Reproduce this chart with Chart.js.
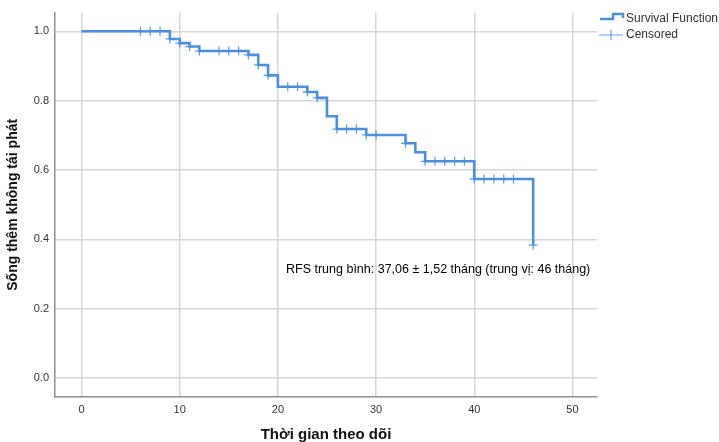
<!DOCTYPE html>
<html>
<head>
<meta charset="utf-8">
<script src="https://cdn.jsdelivr.net/npm/chart.js@4/dist/chart.umd.min.js"></script>
<style>
html, body { margin: 0; padding: 0; background: #fff; }
#wrap { width: 719px; height: 442px; position: relative; }
</style>
</head>
<body>
<div id="wrap"><canvas id="kmChart"></canvas></div>
<script>
// Kaplan-Meier steps
const eventTimes = [0, 9, 10, 11, 12, 17, 18, 19, 20, 23, 24, 25, 26, 29, 33, 34, 35, 40, 46];
const survival = [1.0, 0.978, 0.966, 0.956, 0.943, 0.932, 0.903, 0.873, 0.840, 0.825, 0.808, 0.755, 0.718, 0.701, 0.677, 0.651, 0.625, 0.574, 0.383];

// censored cases
const censorTimes = [6, 7, 8, 9, 10, 11, 12, 14, 15, 16, 17, 18, 19, 21, 22, 23, 24, 26, 27, 28, 29, 30, 33, 35, 36, 37, 38, 39, 40, 41, 42, 43, 44, 46];
const censorSurvival = [1.0, 1.0, 1.0, 0.978, 0.966, 0.956, 0.943, 0.943, 0.943, 0.943, 0.932, 0.903, 0.873, 0.840, 0.840, 0.825, 0.808, 0.718, 0.718, 0.718, 0.701, 0.701, 0.677, 0.625, 0.625, 0.625, 0.625, 0.625, 0.574, 0.574, 0.574, 0.574, 0.574, 0.383];

const xTicks = [0, 10, 20, 30, 40, 50];
const yTicks = [0.0, 0.2, 0.4, 0.6, 0.8, 1.0];
const legendLabels = ['Survival Function', 'Censored'];
const noteText = 'RFS trung bình: 37,06 ± 1,52 tháng (trung vị: 46 tháng)';

const lineColor = '#4a8fe0';
const censorColor = 'rgba(74, 143, 224, 0.85)';

function toPoints(xs, ys)
{
    let pts = [];
    for (let i = 0; i < xs.length; i++)
    {
        pts.push({x: xs[i], y: ys[i]});
    }
    return pts;
}

// legend box and median note, drawn after the chart
const extras = {
    id: 'extras',
    afterDraw(chart) {
        const ctx = chart.ctx;
        const area = chart.chartArea;
        ctx.save();

        // step icon
        ctx.strokeStyle = lineColor;
        ctx.lineWidth = 2.5;
        ctx.beginPath();
        ctx.moveTo(area.right + 3, 19);
        ctx.lineTo(area.right + 16, 19);
        ctx.lineTo(area.right + 16, 14);
        ctx.lineTo(area.right + 26, 14);
        ctx.lineTo(area.right + 26, 18);
        ctx.stroke();

        // censored icon
        ctx.strokeStyle = censorColor;
        ctx.lineWidth = 1.2;
        ctx.beginPath();
        ctx.moveTo(area.right + 2, 35);
        ctx.lineTo(area.right + 26, 35);
        ctx.moveTo(area.right + 14, 30);
        ctx.lineTo(area.right + 14, 40);
        ctx.stroke();

        ctx.fillStyle = '#333';
        ctx.font = '12px "Liberation Sans", Arial, sans-serif';
        ctx.textBaseline = 'middle';
        ctx.textAlign = 'left';
        ctx.fillText(legendLabels[0], area.right + 29, 19);
        ctx.fillText(legendLabels[1], area.right + 29, 35);

        ctx.fillStyle = '#000';
        ctx.font = '12.5px "Liberation Sans", Arial, sans-serif';
        ctx.fillText(noteText, 286, 270);
        ctx.restore();
    }
};

const ctx = document.getElementById('kmChart');
const kmChart = new Chart(ctx, {
    type: 'scatter',
    data: {
        datasets: [
            {
                label: legendLabels[1],
                data: toPoints(censorTimes, censorSurvival),
                showLine: false,
                pointStyle: 'cross',
                pointRadius: 4.5,
                pointBorderWidth: 1.3,
                pointBorderColor: censorColor,
                pointBackgroundColor: censorColor,
                order: 0
            },
            {
                label: legendLabels[0],
                data: toPoints(eventTimes, survival),
                showLine: true,
                stepped: true,
                borderColor: lineColor,
                borderWidth: 2.6,
                pointRadius: 0,
                fill: false,
                order: 1
            }
        ]
    },
    options: {
        responsive: true,
        maintainAspectRatio: false,
        animation: false,
        layout: {
            padding: {top: 10, right: 122, left: 0, bottom: 0}
        },
        plugins: {
            legend: {display: false},
            tooltip: {enabled: false}
        },
        scales: {
            x: {
                type: 'linear',
                min: -2.7,
                max: 52.5,
                afterBuildTicks: function (scale) {
                    scale.ticks = xTicks.map(v => ({value: v}));
                },
                afterFit: function (scale) {
                    scale.height = 45;
                },
                ticks: {
                    padding: 6,
                    color: '#333',
                    font: {family: '"Liberation Sans", Arial, sans-serif', size: 11},
                    callback: v => String(v)
                },
                grid: {color: '#d6d6d6', lineWidth: 1.5, drawTicks: false},
                border: {color: '#8f8f8f', width: 1.5},
                title: {
                    display: true,
                    text: 'Thời gian theo dõi',
                    color: '#111',
                    padding: {top: 0, bottom: -2},
                    font: {family: '"Liberation Sans", Arial, sans-serif', size: 15, weight: 'bold'}
                }
            },
            y: {
                min: -0.055,
                max: 1.054,
                afterBuildTicks: function (scale) {
                    scale.ticks = yTicks.map(v => ({value: v}));
                },
                afterFit: function (scale) {
                    scale.width = 55;
                },
                ticks: {
                    padding: 6,
                    color: '#333',
                    font: {family: '"Liberation Sans", Arial, sans-serif', size: 11},
                    callback: v => Number(v).toFixed(1)
                },
                grid: {color: '#d6d6d6', lineWidth: 1.5, drawTicks: false},
                border: {color: '#8f8f8f', width: 1.5},
                title: {
                    display: true,
                    text: 'Sống thêm không tái phát',
                    color: '#111',
                    padding: {top: 5, bottom: 0},
                    font: {family: '"Liberation Sans", Arial, sans-serif', size: 14, weight: 'bold'}
                }
            }
        }
    },
    plugins: [extras]
});
</script>
</body>
</html>
